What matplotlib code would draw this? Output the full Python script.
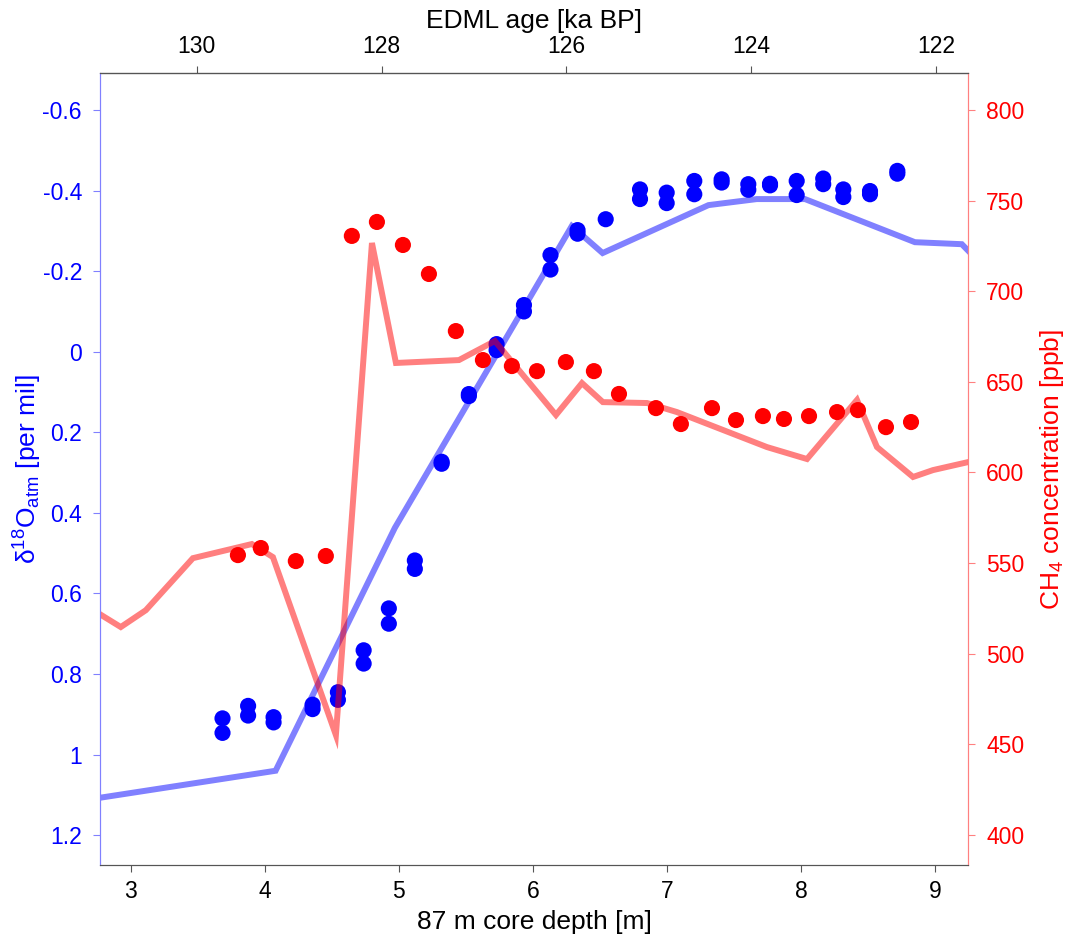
import matplotlib
matplotlib.use("Agg")
import matplotlib.pyplot as plt

plt.rcParams['font.family'] = ['Liberation Sans', 'DejaVu Sans']
plt.rcParams['mathtext.fontset'] = 'custom'
plt.rcParams['mathtext.rm'] = 'Liberation Sans'
plt.rcParams['mathtext.default'] = 'regular'

# d18O_atm model curve (depth m, per mil)
d18_line_depth = [2.77, 4.08, 4.97, 6.29, 6.52, 7.31, 7.67, 8.03, 8.85, 9.20, 9.30]
d18_line_val = [1.107, 1.040, 0.437, -0.312, -0.245, -0.364, -0.379, -0.379, -0.272, -0.267, -0.233]

# d18O_atm measurements (duplicates at the same depth)
d18_depth = [3.684, 3.684, 3.875, 3.875, 4.065, 4.065, 4.356, 4.356, 4.545, 4.545,
             4.737, 4.737, 4.925, 4.925, 5.119, 5.119, 5.319, 5.319, 5.522, 5.522,
             5.729, 5.729, 5.933, 5.933, 6.131, 6.131, 6.333, 6.333, 6.543,
             6.799, 6.799, 6.998, 6.998, 7.204, 7.204, 7.408, 7.408, 7.607, 7.607,
             7.769, 7.769, 7.968, 7.968, 8.166, 8.166, 8.316, 8.316, 8.515, 8.515,
             8.719, 8.719]
d18_val = [0.910, 0.946, 0.879, 0.903, 0.907, 0.920, 0.876, 0.887, 0.845, 0.864,
           0.741, 0.774, 0.637, 0.675, 0.518, 0.539, 0.273, 0.278, 0.105, 0.110,
           -0.019, -0.004, -0.116, -0.100, -0.240, -0.204, -0.302, -0.293, -0.329,
           -0.403, -0.379, -0.395, -0.369, -0.424, -0.391, -0.428, -0.420, -0.416, -0.402,
           -0.417, -0.413, -0.424, -0.389, -0.430, -0.416, -0.403, -0.384, -0.399, -0.391,
           -0.449, -0.442]

# CH4 reference curve (depth m, ppb)
ch4_line_depth = [2.769, 2.925, 3.112, 3.463, 3.903, 4.060, 4.530, 4.799, 4.978, 5.448,
                  5.716, 6.172, 6.366, 6.522, 6.851, 7.075, 7.746, 8.045, 8.418, 8.567,
                  8.836, 8.985, 9.246]
ch4_line_val = [521.8, 514.7, 524.0, 552.7, 560.5, 553.3, 455.1, 726.6, 660.4, 662.0,
                672.5, 631.7, 649.3, 638.8, 638.3, 633.3, 614.0, 607.4, 640.0, 614.0,
                597.5, 601.3, 605.7]

# CH4 measurements
ch4_depth = [3.799, 3.970, 4.231, 4.455, 4.649, 4.836, 5.030, 5.224, 5.425, 5.627,
             5.843, 6.030, 6.246, 6.455, 6.642, 6.918, 7.104, 7.336, 7.515, 7.716,
             7.873, 8.060, 8.269, 8.425, 8.634, 8.821]
ch4_val = [554.4, 558.3, 551.1, 553.9, 730.5, 738.2, 725.5, 709.5, 678.0, 662.0,
           658.7, 655.9, 660.9, 655.9, 643.3, 635.5, 626.7, 635.5, 628.9, 631.1,
           629.5, 631.1, 633.3, 634.4, 625.0, 627.8]

d18_ticks = [-0.6, -0.4, -0.2, 0, 0.2, 0.4, 0.6, 0.8, 1, 1.2]
d18_ticklabels = ['-0.6', '-0.4', '-0.2', '0', '0.2', '0.4', '0.6', '0.8', '1', '1.2']
ch4_ticks = [400, 450, 500, 550, 600, 650, 700, 750, 800]
depth_ticks = [3, 4, 5, 6, 7, 8, 9]
age_ticks = [130, 128, 126, 124, 122]

fig = plt.figure(figsize=(10.65, 9.38), dpi=100)
ax = fig.add_axes([0.0939, 0.0778, 0.815, 0.8444])
ax2 = ax.twinx()

ax.plot(d18_line_depth, d18_line_val, color='#8080ff', lw=4.3, solid_joinstyle='miter', zorder=1)
ax.scatter(d18_depth, d18_val, s=135, color='#0000ff', edgecolors='none', zorder=2)
ax2.plot(ch4_line_depth, ch4_line_val, color='#ff0000', alpha=0.5, lw=4.3, solid_joinstyle='miter', zorder=1)
ax2.scatter(ch4_depth, ch4_val, s=135, color='#ff0000', edgecolors='none', zorder=2)

ax.set_xlim(2.77, 9.246)
ax.set_ylim(1.274, -0.692)
ax2.set_ylim(383.4, 820.4)

gray = '#555555'
blue = '#0000ff'
red = '#ff0000'
tsize = 16.5
lsize = 19

ax.set_xticks(depth_ticks)
ax.set_yticks(d18_ticks)
ax.set_yticklabels(d18_ticklabels)
ax2.set_yticks(ch4_ticks)

ax.tick_params(axis='x', direction='out', length=5, colors=gray, labelcolor='black', labelsize=tsize, pad=6)
ax.tick_params(axis='y', direction='out', length=5, colors='#8080ff', labelcolor=blue, labelsize=tsize, pad=8)
ax2.tick_params(axis='y', direction='out', length=5, colors='#ff8080', labelcolor=red, labelsize=tsize, pad=8)

for a in (ax, ax2):
    a.spines['top'].set_color(gray)
    a.spines['bottom'].set_color(gray)
    a.spines['left'].set_color('#8080ff')
    a.spines['right'].set_color('#ff8080')

ax.set_xlabel('87 m core depth [m]', fontsize=lsize, labelpad=5)
ax.set_ylabel(r'$\delta^{18}$O$_{atm}$ [per mil]', fontsize=lsize, color=blue, labelpad=-1)
ax2.set_ylabel('CH$_4$ concentration [ppb]', fontsize=lsize, color=red, rotation=90, labelpad=10)


def depth_to_age(d):
    return 130 - 1.4506 * (d - 3.4925)


def age_to_depth(a):
    return 3.4925 + (130 - a) / 1.4506


top = ax.secondary_xaxis('top', functions=(depth_to_age, age_to_depth))
top.set_xticks(age_ticks)
top.tick_params(direction='out', length=5, colors=gray, labelcolor='black', labelsize=tsize, pad=6)
top.set_xlabel('EDML age [ka BP]', fontsize=lsize, labelpad=5)

fig.savefig('out.png', dpi=100)
